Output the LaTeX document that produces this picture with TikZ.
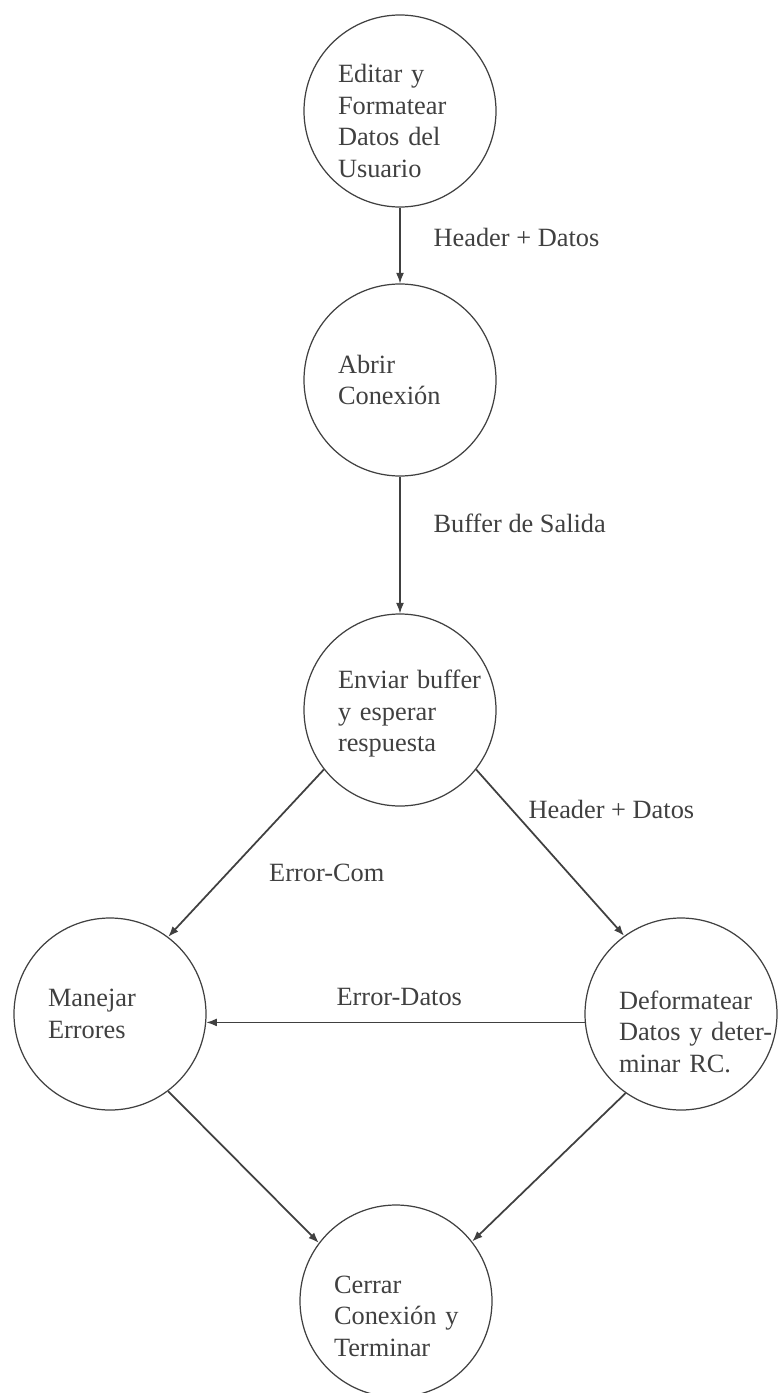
\documentclass[tikz,border=0pt]{standalone}
\usepackage{fontspec}
\setmainfont{Liberation Serif}
\usetikzlibrary{positioning,arrows.meta}

\begin{document}
\begin{tikzpicture}[
	proc/.style={circle, draw=black!75, line width=0.7pt, minimum size=3.84cm, inner sep=1pt, text width=2.48cm, align=left, text=black!75, font=\fontsize{15}{18}\selectfont},
	bajo/.style={execute at begin node={\rule{0pt}{#1}}},
	flecha/.style={-{Latex[length=6pt,width=4.5pt]}, draw=black!75, line width=0.7pt},
	etiq/.style={inner sep=0pt, text=black!75, font=\fontsize{15}{18}\selectfont}]
			\useasboundingbox (0,0) rectangle (15.56,-27.86);

			\node (e)[proc, bajo=21.8pt] at (8,-2.22) {Editar y\\ Formatear\\ Datos del\\ Usuario};
			\node (a)[proc] at (8,-7.60) {Abrir\\ Conexión};
			\node (v)[proc, bajo=14.9pt] at (8,-14.20) {\mbox{Enviar buffer}\\ y esperar\\ respuesta};
			\node (m)[proc] at (2.20,-20.28) {Manejar\\ Errores};
			\node (d)[proc, bajo=30.8pt] at (13.62,-20.28) {Deformatear\\ \mbox{Datos y deter-}\\ minar RC.};
			\node (c)[proc, bajo=27.4pt] at (7.92,-26.02) {Cerrar\\ \mbox{Conexión y}\\ Terminar};

			\draw [flecha](e) -- node[etiq, right=0.66cm, pos=.39] {Header + Datos} (a);
			\draw [flecha](a) -- node[etiq, right=0.66cm, pos=.34] {Buffer de Salida} (v);
			\draw [flecha, line width=1pt](v.218) -- node[etiq, right=0.82cm, pos=.62] {Error-Com} (m.53);
			\draw [flecha, line width=1pt](v.322) -- node[etiq, right=0.32cm, pos=.24] {Header + Datos} (d.126);
			\draw [flecha, line width=0.85pt](d.185) -- node[etiq, above=0.32cm, pos=.49] {Error-Datos} (m.355);
			\draw [flecha, line width=1pt](m.-53) -- (c.143);
			\draw [flecha, line width=1pt](d.235) -- (c.38);
		\end{tikzpicture}
\end{document}
